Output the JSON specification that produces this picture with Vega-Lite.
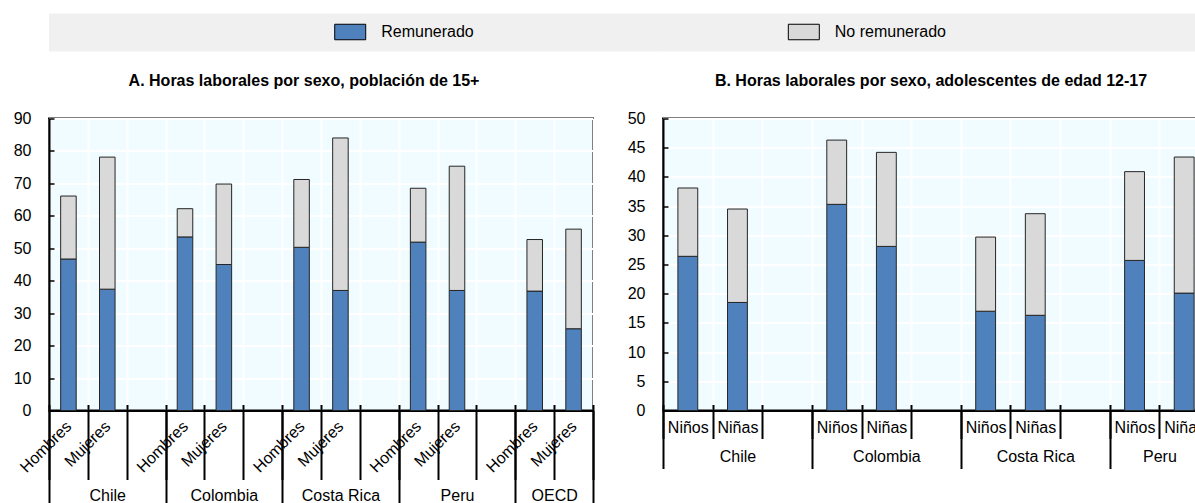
{
  "$schema": "https://vega.github.io/schema/vega-lite/v6.json",
  "padding": {"left": 12, "top": 12.5, "right": 0, "bottom": 0},
  "columns": 3,
  "bounds": "flush",
  "align": "each",
  "spacing": {"column": 0, "row": 0},
  "config": {
    "font": "Liberation Sans",
    "view": {"stroke": "#000", "strokeWidth": 2, "fill": "#f0fcff"},
    "axis": {"labelFont": "Liberation Sans", "labelFontSize": 16, "labelColor": "#000", "labelOverlap": false, "labelFlush": false},
    "title": {"font": "Liberation Sans", "fontSize": 16, "fontWeight": "bold", "color": "#000"}
  },
  "datasets": {
    "a": [
      {"slot": "Chile|Hombres", "tipo": "Remunerado", "horas": 46.7},
      {"slot": "Chile|Hombres", "tipo": "No remunerado", "horas": 19.4},
      {"slot": "Chile|Mujeres", "tipo": "Remunerado", "horas": 37.4},
      {"slot": "Chile|Mujeres", "tipo": "No remunerado", "horas": 40.7},
      {"slot": "Colombia|Hombres", "tipo": "Remunerado", "horas": 53.5},
      {"slot": "Colombia|Hombres", "tipo": "No remunerado", "horas": 8.7},
      {"slot": "Colombia|Mujeres", "tipo": "Remunerado", "horas": 45.0},
      {"slot": "Colombia|Mujeres", "tipo": "No remunerado", "horas": 24.8},
      {"slot": "Costa Rica|Hombres", "tipo": "Remunerado", "horas": 50.3},
      {"slot": "Costa Rica|Hombres", "tipo": "No remunerado", "horas": 20.9},
      {"slot": "Costa Rica|Mujeres", "tipo": "Remunerado", "horas": 37.0},
      {"slot": "Costa Rica|Mujeres", "tipo": "No remunerado", "horas": 47.0},
      {"slot": "Peru|Hombres", "tipo": "Remunerado", "horas": 51.9},
      {"slot": "Peru|Hombres", "tipo": "No remunerado", "horas": 16.6},
      {"slot": "Peru|Mujeres", "tipo": "Remunerado", "horas": 37.0},
      {"slot": "Peru|Mujeres", "tipo": "No remunerado", "horas": 38.3},
      {"slot": "OECD|Hombres", "tipo": "Remunerado", "horas": 36.8},
      {"slot": "OECD|Hombres", "tipo": "No remunerado", "horas": 15.9},
      {"slot": "OECD|Mujeres", "tipo": "Remunerado", "horas": 25.2},
      {"slot": "OECD|Mujeres", "tipo": "No remunerado", "horas": 30.7}
    ],
    "b": [
      {"slot": "Chile|Niños", "tipo": "Remunerado", "horas": 26.4},
      {"slot": "Chile|Niños", "tipo": "No remunerado", "horas": 11.7},
      {"slot": "Chile|Niñas", "tipo": "Remunerado", "horas": 18.5},
      {"slot": "Chile|Niñas", "tipo": "No remunerado", "horas": 16.0},
      {"slot": "Colombia|Niños", "tipo": "Remunerado", "horas": 35.3},
      {"slot": "Colombia|Niños", "tipo": "No remunerado", "horas": 11.0},
      {"slot": "Colombia|Niñas", "tipo": "Remunerado", "horas": 28.1},
      {"slot": "Colombia|Niñas", "tipo": "No remunerado", "horas": 16.1},
      {"slot": "Costa Rica|Niños", "tipo": "Remunerado", "horas": 17.0},
      {"slot": "Costa Rica|Niños", "tipo": "No remunerado", "horas": 12.7},
      {"slot": "Costa Rica|Niñas", "tipo": "Remunerado", "horas": 16.3},
      {"slot": "Costa Rica|Niñas", "tipo": "No remunerado", "horas": 17.4},
      {"slot": "Peru|Niños", "tipo": "Remunerado", "horas": 25.7},
      {"slot": "Peru|Niños", "tipo": "No remunerado", "horas": 15.2},
      {"slot": "Peru|Niñas", "tipo": "Remunerado", "horas": 20.1},
      {"slot": "Peru|Niñas", "tipo": "No remunerado", "horas": 23.3}
    ],
    "leg": [
      {"tipo": "Remunerado"},
      {"tipo": "No remunerado"}
    ]
  },
  "concat": [
    {
      "width": 544,
      "height": 37,
      "data": {"name": "leg"},
      "transform": [{"filter": "datum.tipo === 'Remunerado'"}],
      "view": {"fill": "#f0f0f0", "stroke": "#f0f0f0", "strokeWidth": 1},
      "layer": [
        {
          "mark": {"type": "point", "shape": "M-1,-0.5H1V0.5H-1Z", "size": 961, "filled": true, "opacity": 1, "stroke": "#000", "strokeWidth": 1},
          "encoding": {
            "x": {"field": "tipo", "type": "nominal", "scale": {"type": "point", "domain": ["Remunerado"], "padding": 0, "align": 0.5537}, "axis": null},
            "color": {"field": "tipo", "type": "nominal", "scale": {"domain": ["Remunerado", "No remunerado"], "range": ["#4f81bd", "#d9d9d9"]}, "legend": null}
          }
        },
        {
          "mark": {"type": "text", "align": "left", "baseline": "middle", "dx": 31, "fontSize": 16, "color": "#000"},
          "encoding": {
            "x": {"field": "tipo", "type": "nominal", "scale": {"type": "point", "domain": ["Remunerado"], "padding": 0, "align": 0.5537}, "axis": null},
            "text": {"field": "tipo"}
          }
        }
      ]
    },
    {
      "width": 69.4,
      "height": 37,
      "data": {"name": "leg"},
      "view": {"fill": "#f0f0f0", "stroke": "#f0f0f0", "strokeWidth": 1},
      "mark": {"type": "point", "opacity": 0},
      "encoding": {}
    },
    {
      "width": 546,
      "height": 37,
      "data": {"name": "leg"},
      "transform": [{"filter": "datum.tipo === 'No remunerado'"}],
      "view": {"fill": "#f0f0f0", "stroke": "#f0f0f0", "strokeWidth": 1},
      "layer": [
        {
          "mark": {"type": "point", "shape": "M-1,-0.5H1V0.5H-1Z", "size": 961, "filled": true, "opacity": 1, "stroke": "#000", "strokeWidth": 1},
          "encoding": {
            "x": {"field": "tipo", "type": "nominal", "scale": {"type": "point", "domain": ["No remunerado"], "padding": 0, "align": 0.2579}, "axis": null},
            "color": {"field": "tipo", "type": "nominal", "scale": {"domain": ["Remunerado", "No remunerado"], "range": ["#4f81bd", "#d9d9d9"]}, "legend": null}
          }
        },
        {
          "mark": {"type": "text", "align": "left", "baseline": "middle", "dx": 31, "fontSize": 16, "color": "#000"},
          "encoding": {
            "x": {"field": "tipo", "type": "nominal", "scale": {"type": "point", "domain": ["No remunerado"], "padding": 0, "align": 0.2579}, "axis": null},
            "text": {"field": "tipo"}
          }
        }
      ]
    },
    {"width": 1, "height": 68, "data": {"name": "leg"}, "view": {"fill": null, "stroke": null}, "mark": {"type": "point", "opacity": 0}, "encoding": {}},
    {"width": 1, "height": 68, "data": {"name": "leg"}, "view": {"fill": null, "stroke": null}, "mark": {"type": "point", "opacity": 0}, "encoding": {}},
    {"width": 1, "height": 68, "data": {"name": "leg"}, "view": {"fill": null, "stroke": null}, "mark": {"type": "point", "opacity": 0}, "encoding": {}},
    {
      "width": 544,
      "height": 292,
      "title": {"text": "A. Horas laborales por sexo, población de 15+", "anchor": "middle", "dx": -17, "offset": 22},
      "data": {"name": "a"},
      "mark": {"type": "bar", "stroke": "#262626", "strokeWidth": 1, "width": {"band": 0.4}},
      "encoding": {
        "x": {"field": "slot", "type": "nominal", "sort": null,
          "scale": {"domain": ["Chile|Hombres", "Chile|Mujeres", "Chile| ", "Colombia|Hombres", "Colombia|Mujeres", "Colombia| ", "Costa Rica|Hombres", "Costa Rica|Mujeres", "Costa Rica| ", "Peru|Hombres", "Peru|Mujeres", "Peru| ", "OECD|Hombres", "OECD|Mujeres"], "paddingInner": 0, "paddingOuter": 0},
          "axis": {"orient": "bottom", "title": null, "tickBand": "extent", "tickSize": 69, "tickWidth": 2, "tickColor": "#000", "domainColor": "#000", "domainWidth": 2, "labelExpr": "split(datum.value, '|')[1]", "labelAngle": -45, "labelAlign": "right", "labelBaseline": "middle", "labelPadding": -56, "grid": true, "gridColor": "#ffffff", "gridWidth": 2}},
        "y": {"field": "horas", "type": "quantitative", "stack": "zero", "scale": {"domain": [0, 90], "nice": false},
          "axis": {"title": null, "values": [0, 10, 20, 30, 40, 50, 60, 70, 80, 90], "tickSize": -5, "tickWidth": 1.5, "tickColor": "#000", "labelPadding": 23, "domainColor": "#000", "domainWidth": 2, "grid": true, "gridColor": "#ffffff", "gridWidth": 2}},
        "color": {"field": "tipo", "type": "nominal", "scale": {"domain": ["Remunerado", "No remunerado"], "range": ["#4f81bd", "#d9d9d9"]}, "legend": null},
        "order": {"field": "tipo", "sort": "descending"}
      }
    },
    {"width": 1, "height": 1, "data": {"name": "leg"}, "view": {"fill": null, "stroke": null}, "mark": {"type": "point", "opacity": 0}, "encoding": {}},
    {
      "width": 546,
      "height": 292,
      "title": {"text": "B. Horas laborales por sexo, adolescentes de edad 12-17", "anchor": "middle", "dx": -5, "offset": 22},
      "data": {"name": "b"},
      "mark": {"type": "bar", "stroke": "#262626", "strokeWidth": 1, "width": {"band": 0.4}},
      "encoding": {
        "x": {"field": "slot", "type": "nominal", "sort": null,
          "scale": {"domain": ["Chile|Niños", "Chile|Niñas", "Chile| ", "Colombia|Niños", "Colombia|Niñas", "Colombia| ", "Costa Rica|Niños", "Costa Rica|Niñas", "Costa Rica| ", "Peru|Niños", "Peru|Niñas"], "paddingInner": 0, "paddingOuter": 0},
          "axis": {"orient": "bottom", "title": null, "tickBand": "extent", "tickSize": 28, "tickWidth": 2, "tickColor": "#000", "domainColor": "#000", "domainWidth": 2, "labelExpr": "split(datum.value, '|')[1]", "labelAngle": 0, "labelAlign": "center", "labelBaseline": "middle", "labelPadding": -11.3, "grid": true, "gridColor": "#ffffff", "gridWidth": 2}},
        "y": {"field": "horas", "type": "quantitative", "stack": "zero", "scale": {"domain": [0, 50], "nice": false},
          "axis": {"title": null, "values": [0, 5, 10, 15, 20, 25, 30, 35, 40, 45, 50], "tickSize": -5, "tickWidth": 1.5, "tickColor": "#000", "labelPadding": 23, "domainColor": "#000", "domainWidth": 2, "grid": true, "gridColor": "#ffffff", "gridWidth": 2}},
        "color": {"field": "tipo", "type": "nominal", "scale": {"domain": ["Remunerado", "No remunerado"], "range": ["#4f81bd", "#d9d9d9"]}, "legend": null},
        "order": {"field": "tipo", "sort": "descending"}
      }
    },
    {
      "width": 544,
      "height": 1,
      "data": {"name": "a"},
      "view": {"fill": null, "stroke": null},
      "mark": {"type": "point", "opacity": 0},
      "encoding": {
        "x": {"field": "slot", "type": "nominal", "sort": null,
          "scale": {"type": "point", "domain": ["Chile", "k1", "k2", "Colombia", "k4", "k5", "Costa Rica", "k7", "k8", "Peru", "k10", "k11", "OECD", "k13", "fin"], "padding": 0},
          "axis": {"orient": "bottom", "offset": -1, "title": null, "values": ["Chile", "Colombia", "Costa Rica", "Peru", "OECD", "fin"], "tickSize": 93, "tickWidth": 2, "tickColor": "#000", "domain": false, "grid": false, "labelExpr": "datum.value === 'fin' ? '' : datum.value", "labelAngle": 0, "labelAlign": "center", "labelBaseline": "middle", "labelPadding": -8, "labelOffset": {"condition": {"test": "datum.value === 'OECD'", "value": 38.86}, "value": 58.29}}}
      }
    },
    {"width": 1, "height": 1, "data": {"name": "leg"}, "view": {"fill": null, "stroke": null}, "mark": {"type": "point", "opacity": 0}, "encoding": {}},
    {
      "width": 546,
      "height": 1,
      "data": {"name": "b"},
      "view": {"fill": null, "stroke": null},
      "mark": {"type": "point", "opacity": 0},
      "encoding": {
        "x": {"field": "slot", "type": "nominal", "sort": null,
          "scale": {"type": "point", "domain": ["Chile", "k1", "k2", "Colombia", "k4", "k5", "Costa Rica", "k7", "k8", "Peru", "k10", "fin"], "padding": 0},
          "axis": {"orient": "bottom", "offset": -1, "title": null, "values": ["Chile", "Colombia", "Costa Rica", "Peru", "fin"], "tickSize": 58, "tickWidth": 2, "tickColor": "#000", "domain": false, "grid": false, "labelExpr": "datum.value === 'fin' ? '' : datum.value", "labelAngle": 0, "labelAlign": "center", "labelBaseline": "middle", "labelPadding": -12, "labelOffset": {"condition": {"test": "datum.value === 'Peru'", "value": 49.64}, "value": 74.46}}}
      }
    },
    {
      "width": 544,
      "height": 1,
      "data": {"name": "a"},
      "view": {"fill": null, "stroke": null},
      "mark": {"type": "point", "opacity": 0},
      "encoding": {
        "x": {"field": "slot", "type": "nominal", "sort": null,
          "scale": {"domain": ["Chile|Hombres", "Chile|Mujeres", "Chile| ", "Colombia|Hombres", "Colombia|Mujeres", "Colombia| ", "Costa Rica|Hombres", "Costa Rica|Mujeres", "Costa Rica| ", "Peru|Hombres", "Peru|Mujeres", "Peru| ", "OECD|Hombres", "OECD|Mujeres"], "paddingInner": 0, "paddingOuter": 0},
          "axis": {"orient": "bottom", "offset": -2, "title": null, "tickBand": "extent", "tickSize": -6, "tickWidth": 2, "tickColor": "#000", "domain": false, "grid": false, "labels": false}}
      }
    },
    {"width": 1, "height": 1, "data": {"name": "leg"}, "view": {"fill": null, "stroke": null}, "mark": {"type": "point", "opacity": 0}, "encoding": {}},
    {
      "width": 546,
      "height": 1,
      "data": {"name": "b"},
      "view": {"fill": null, "stroke": null},
      "mark": {"type": "point", "opacity": 0},
      "encoding": {
        "x": {"field": "slot", "type": "nominal", "sort": null,
          "scale": {"domain": ["Chile|Niños", "Chile|Niñas", "Chile| ", "Colombia|Niños", "Colombia|Niñas", "Colombia| ", "Costa Rica|Niños", "Costa Rica|Niñas", "Costa Rica| ", "Peru|Niños", "Peru|Niñas"], "paddingInner": 0, "paddingOuter": 0},
          "axis": {"orient": "bottom", "offset": -2, "title": null, "tickBand": "extent", "tickSize": -6, "tickWidth": 2, "tickColor": "#000", "domain": false, "grid": false, "labels": false}}
      }
    }
  ]
}
